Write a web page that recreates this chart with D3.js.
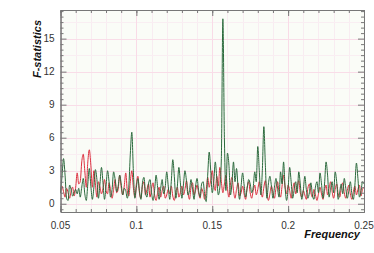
<!DOCTYPE html>
<html>
<head>
<meta charset="utf-8">
<script src="https://cdn.jsdelivr.net/npm/d3@7"></script>
<style>
  body { margin: 0; background: #fff; }
  .tick-label { font-family: "Liberation Sans", Arial, sans-serif; font-size: 10px; fill: #333; }
  .axis-title { font-family: "Liberation Sans", Arial, sans-serif; font-size: 11px; font-weight: bold; font-style: italic; fill: #111; }
</style>
</head>
<body>
<div id="chart"></div>
<script>
// frequency grid: 0.050 .. 0.250, step 0.001
const freqStart = 0.05;
const freqStep = 0.001;

const greenValues = [
  1.0, 2.5, 4.1, 2.6, 0.5, 0.3, 1.7, 1.3, 0.7, 1.0,
  1.3, 0.9, 1.4, 0.6, 1.5, 2.3, 0.9, 0.3, 1.8, 3.2,
  1.6, 0.4, 1.5, 3.1, 2.2, 0.5, 1.8, 3.3, 1.9, 0.4,
  1.6, 3.0, 2.0, 0.6, 1.3, 2.9, 2.2, 1.1, 1.6, 2.6,
  1.8, 0.8, 1.4, 1.2, 0.5, 1.5, 4.5, 6.5, 3.0, 0.5,
  1.5, 2.3, 1.2, 0.4, 1.9, 2.4, 1.0, 0.6, 1.8, 2.2,
  1.0, 0.3, 1.2, 2.6, 1.5, 0.4, 1.4, 2.2, 0.9, 1.5,
  2.9, 1.6, 0.4, 2.0, 4.0, 2.5, 0.5, 1.6, 3.3, 1.9,
  0.5, 1.7, 3.0, 2.1, 0.8, 1.2, 2.2, 1.3, 0.4, 1.6,
  2.3, 1.2, 0.6, 1.8, 2.0, 0.8, 0.2, 2.6, 4.7, 3.0,
  1.0, 2.0, 3.8, 2.3, 0.8, 1.5, 4.1, 16.8, 6.0, 1.2,
  4.6, 3.5, 0.8, 1.9, 3.8, 2.0, 3.2, 1.5, 0.4, 1.6,
  2.8, 1.7, 0.6, 1.4, 2.2, 1.8, 1.0, 1.5, 2.9, 2.0,
  5.2, 3.0, 0.8, 3.0, 7.0, 3.5, 0.5, 1.8, 2.5, 1.6,
  0.5, 1.5, 2.3, 1.4, 0.6, 2.9, 1.8, 3.8, 1.5, 0.3,
  1.4, 3.3, 2.0, 0.5, 1.3, 2.0, 1.0, 2.9, 1.8, 0.4,
  1.2, 2.5, 1.3, 0.5, 1.0, 1.9, 0.8, 0.4, 1.5, 2.0,
  1.0, 2.8, 1.8, 0.5, 1.8, 3.8, 2.6, 0.6, 1.4, 2.0,
  1.0, 2.9, 2.0, 0.4, 1.1, 1.8, 0.9, 2.3, 1.4, 0.5,
  1.2, 2.0, 0.9, 0.4, 1.7, 3.7, 2.3, 0.6, 1.1, 2.0,
  1.8
];

const redValues = [
  1.0, 1.6, 1.1, 0.6, 1.4, 1.0, 0.5, 1.2, 1.5, 0.7,
  1.5, 2.8, 1.8, 2.0, 3.8, 4.5, 3.0, 1.5, 3.8, 4.9,
  3.5, 1.5, 3.0, 1.8, 0.6, 2.0, 1.5, 0.9, 1.4, 2.2,
  1.2, 0.9, 1.9, 1.2, 0.5, 1.3, 2.2, 1.0, 1.3, 2.6,
  1.5, 0.8, 1.6, 2.8, 1.2, 0.7, 2.0, 3.0, 1.5, 0.6,
  1.8, 2.5, 1.0, 0.5, 1.6, 2.0, 0.8, 1.3, 1.8, 0.6,
  1.4, 1.9, 0.8, 0.3, 1.0, 1.5, 0.6, 1.2, 1.6, 0.5,
  0.8, 1.3, 0.9, 1.6, 0.7, 0.3, 1.1, 1.5, 0.6, 1.0,
  1.6, 0.8, 1.3, 2.1, 1.0, 0.4, 1.5, 1.9, 0.8, 1.2,
  1.7, 1.0, 0.5, 1.4, 1.0, 0.4, 1.2, 2.4, 1.5, 2.2,
  3.0, 1.8, 1.2, 2.5, 1.6, 3.3, 2.0, 1.0, 1.8, 2.6,
  1.4, 0.6, 1.8, 2.4, 1.2, 0.5, 1.3, 1.9, 0.7, 1.0,
  1.6, 0.9, 0.4, 1.5, 2.0, 1.0, 0.5, 1.2, 1.7, 0.8,
  1.3, 2.0, 1.2, 0.6, 1.5, 2.1, 1.0, 0.3, 0.9, 1.6,
  1.0, 0.5, 1.4, 2.0, 1.1, 0.6, 1.6, 2.6, 1.5, 0.9,
  1.7, 1.2, 0.5, 1.3, 1.9, 0.9, 1.5, 2.1, 1.0, 0.6,
  1.2, 0.8, 0.4, 1.4, 1.8, 1.0, 0.6, 1.3, 0.8, 0.3,
  0.9, 1.5, 0.9, 0.4, 1.2, 1.7, 0.8, 1.4, 2.0, 1.1,
  0.5, 1.3, 1.8, 0.9, 0.6, 1.4, 1.9, 1.0, 0.5, 1.2,
  1.7, 0.9, 0.4, 1.1, 1.6, 0.8, 1.3, 1.7, 0.7, 1.3,
  1.5
];

const xTickValues = [0.05, 0.1, 0.15, 0.2, 0.25];
const xTickLabels = ["0.05", "0.1", "0.15", "0.2", "0.25"];
const yTickValues = [0, 3, 6, 9, 12, 15];

const width = 374, height = 253;
const margin = { top: 10, right: 10, bottom: 41, left: 60.5 };

const svg = d3.select("#chart").append("svg")
  .attr("width", width)
  .attr("height", height);

const x = d3.scaleLinear()
  .domain([0.05, 0.25])
  .range([margin.left, width - margin.right]);

const y = d3.scaleLinear()
  .domain([-0.75, 17.6])
  .range([height - margin.bottom, margin.top]);

const x0 = x.range()[0], x1 = x.range()[1];
const y0 = y.range()[0], y1 = y.range()[1];

// plot background
svg.append("rect")
  .attr("x", x0).attr("y", y1)
  .attr("width", x1 - x0).attr("height", y0 - y1)
  .attr("fill", "#fafcf7");

// grid
const xMinor = d3.range(0.05, 0.2501, 0.01);
const yMinor = d3.range(0, 17.6, 1.5);

const grid = svg.append("g").attr("shape-rendering", "crispEdges");
grid.selectAll(".vminor").data(xMinor).join("line")
  .attr("x1", d => Math.round(x(d)) + 0.5).attr("x2", d => Math.round(x(d)) + 0.5)
  .attr("y1", y1).attr("y2", y0)
  .attr("stroke", "#f8ecf1");
grid.selectAll(".hminor").data(yMinor).join("line")
  .attr("y1", d => Math.round(y(d)) + 0.5).attr("y2", d => Math.round(y(d)) + 0.5)
  .attr("x1", x0).attr("x2", x1)
  .attr("stroke", "#f9eef2");
grid.selectAll(".vmajor").data(xTickValues).join("line")
  .attr("x1", d => Math.round(x(d)) + 0.5).attr("x2", d => Math.round(x(d)) + 0.5)
  .attr("y1", y1).attr("y2", y0)
  .attr("stroke", "#f9dbe7");
grid.selectAll(".hmajor").data(yTickValues).join("line")
  .attr("y1", d => Math.round(y(d)) + 0.5).attr("y2", d => Math.round(y(d)) + 0.5)
  .attr("x1", x0).attr("x2", x1)
  .attr("stroke", "#f9dde8");

// series
const redData = redValues.map((v, i) => ({ f: freqStart + i * freqStep, v: v }));
const greenData = greenValues.map((v, i) => ({ f: freqStart + i * freqStep, v: v }));

const line = d3.line()
  .x(d => x(d.f))
  .y(d => y(d.v))
  .curve(d3.curveMonotoneX);

svg.append("path")
  .datum(redData)
  .attr("fill", "none")
  .attr("stroke", "#dc2f3e")
  .attr("stroke-width", 1)
  .attr("d", line);

svg.append("path")
  .datum(greenData)
  .attr("fill", "none")
  .attr("stroke", "#2c6a3d")
  .attr("stroke-width", 1)
  .attr("d", line);

// axes: ticks point inward, mirrored on top and right
const axisColor = "#777";
function styleAxis(g) {
  g.select(".domain").attr("stroke", axisColor);
  g.selectAll(".tick line").attr("stroke", axisColor);
  g.selectAll(".tick text").remove();
}

const yMinorTicks = d3.range(-0.5, 17.6, 0.5).filter(d => d % 3 !== 0);

svg.append("g").attr("transform", `translate(0,${y0})`)
  .call(d3.axisTop(x).tickValues(xMinor).tickSize(3).tickSizeOuter(0)).call(styleAxis);
svg.append("g").attr("transform", `translate(0,${y0})`)
  .call(d3.axisTop(x).tickValues(xTickValues).tickSize(6).tickSizeOuter(0)).call(styleAxis);
svg.append("g").attr("transform", `translate(0,${y1})`)
  .call(d3.axisBottom(x).tickValues(xMinor).tickSize(3).tickSizeOuter(0)).call(styleAxis);
svg.append("g").attr("transform", `translate(0,${y1})`)
  .call(d3.axisBottom(x).tickValues(xTickValues).tickSize(6).tickSizeOuter(0)).call(styleAxis);

svg.append("g").attr("transform", `translate(${x0},0)`)
  .call(d3.axisRight(y).tickValues(yMinorTicks).tickSize(3).tickSizeOuter(0)).call(styleAxis);
svg.append("g").attr("transform", `translate(${x0},0)`)
  .call(d3.axisRight(y).tickValues(yTickValues).tickSize(6).tickSizeOuter(0)).call(styleAxis);
svg.append("g").attr("transform", `translate(${x1},0)`)
  .call(d3.axisLeft(y).tickValues(yMinorTicks).tickSize(3).tickSizeOuter(0)).call(styleAxis);
svg.append("g").attr("transform", `translate(${x1},0)`)
  .call(d3.axisLeft(y).tickValues(yTickValues).tickSize(6).tickSizeOuter(0)).call(styleAxis);

// tick labels
svg.selectAll(".xlab").data(xTickValues).join("text")
  .attr("class", "tick-label")
  .attr("x", d => x(d))
  .attr("y", y0 + 17)
  .attr("text-anchor", "middle")
  .text((d, i) => xTickLabels[i]);

svg.selectAll(".ylab").data(yTickValues).join("text")
  .attr("class", "tick-label")
  .attr("x", x0 - 6)
  .attr("y", d => y(d) + 3.5)
  .attr("text-anchor", "end")
  .text(d => d);

// axis titles
svg.append("text")
  .attr("class", "axis-title")
  .attr("transform", `translate(41,20) rotate(-90)`)
  .attr("text-anchor", "end")
  .text("F-statistics");

svg.append("text")
  .attr("class", "axis-title")
  .attr("x", 360)
  .attr("y", 238)
  .attr("text-anchor", "end")
  .text("Frequency");
</script>
</body>
</html>
